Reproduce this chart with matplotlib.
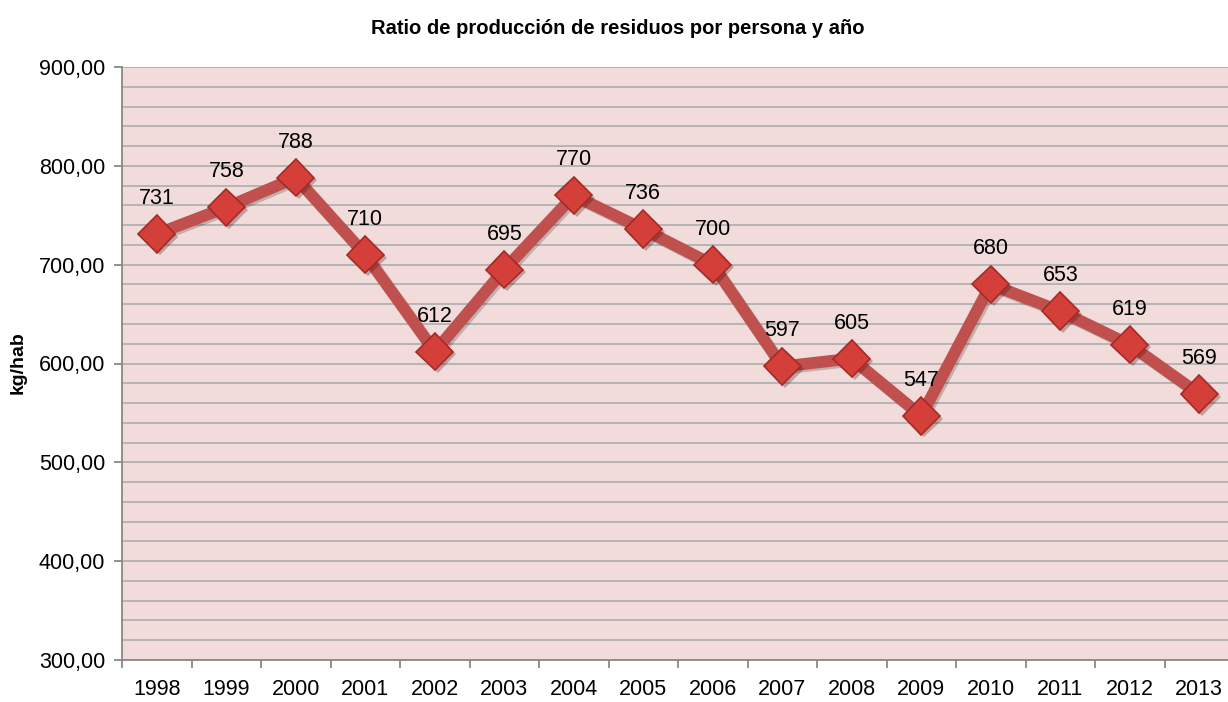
import matplotlib
matplotlib.use("Agg")
import matplotlib.pyplot as plt
from matplotlib.ticker import MultipleLocator, FuncFormatter
import matplotlib.patheffects as pe

years = ["1998", "1999", "2000", "2001", "2002", "2003", "2004", "2005",
         "2006", "2007", "2008", "2009", "2010", "2011", "2012", "2013"]
values = [731, 758, 788, 710, 612, 695, 770, 736, 700, 597, 605, 547, 680, 653, 619, 569]
title = "Ratio de producción de residuos por persona y año"
ylabel = "kg/hab"

fam = ["Liberation Sans Narrow", "Liberation Sans", "DejaVu Sans"]
plt.rcParams['font.family'] = fam

fig = plt.figure(figsize=(12.28, 7.02), dpi=100)
W, H = 1228, 702
left, right, top, bottom = 122, 1234, 67, 660
ax = fig.add_axes([left / W, 1 - bottom / H, (right - left) / W, (bottom - top) / H])
ax.set_facecolor("#F2DCDB")

x = list(range(len(years)))
ax.plot(x, values, color="#C0504D", lw=8.5, zorder=3, solid_joinstyle="miter",
        path_effects=[pe.SimpleLineShadow(offset=(1.5, -1.5), alpha=0.2), pe.Normal()])
ax.plot(x, values, linestyle="none", marker="D", markersize=19,
        markerfacecolor="#D43F3A", markeredgecolor="#A52A26", markeredgewidth=1.2, zorder=4,
        path_effects=[pe.SimplePatchShadow(offset=(2, -2), alpha=0.3), pe.Normal()])
for xi, v in zip(x, values):
    ax.annotate(str(v), (xi, v), xytext=(0, 18), textcoords="offset points",
                ha="center", va="bottom", fontsize=15.5, color="black", zorder=5)

ax.set_xlim(-0.5, len(years) - 0.5)
ax.set_ylim(300, 900)
ax.yaxis.set_major_locator(MultipleLocator(100))
ax.yaxis.set_minor_locator(MultipleLocator(20))
ax.yaxis.set_major_formatter(FuncFormatter(lambda v, p: f"{v:.2f}".replace(".", ",")))
ax.grid(axis="y", which="both", color="#B0B0B0", lw=1.3, zorder=1)
ax.set_axisbelow(True)

ax.set_xticks([i - 0.5 for i in range(len(years) + 1)])
ax.set_xticklabels([])
ax.set_xticks(x, minor=True)
ax.set_xticklabels(years, minor=True, fontsize=15.5)
ax.tick_params(axis="x", which="minor", length=0, pad=14)
ax.tick_params(axis="x", which="major", length=6, color="#888888", width=1.3, direction="out")
ax.tick_params(axis="y", which="major", length=6, color="#888888", width=1.3, labelsize=15.5, pad=6)
ax.tick_params(axis="y", which="minor", length=0)

for s in ["top", "right"]:
    ax.spines[s].set_visible(False)
for s in ["left", "bottom"]:
    ax.spines[s].set_color("#888888")
    ax.spines[s].set_linewidth(1.3)

fig.text(618 / W, 1 - 28 / H, title, ha="center", va="center",
         fontsize=14.5, fontweight="bold")
fig.text(18 / W, 1 - 363 / H, ylabel, rotation=90, ha="center", va="center",
         fontsize=14, fontweight="bold")

fig.savefig("out.png", dpi=100)
